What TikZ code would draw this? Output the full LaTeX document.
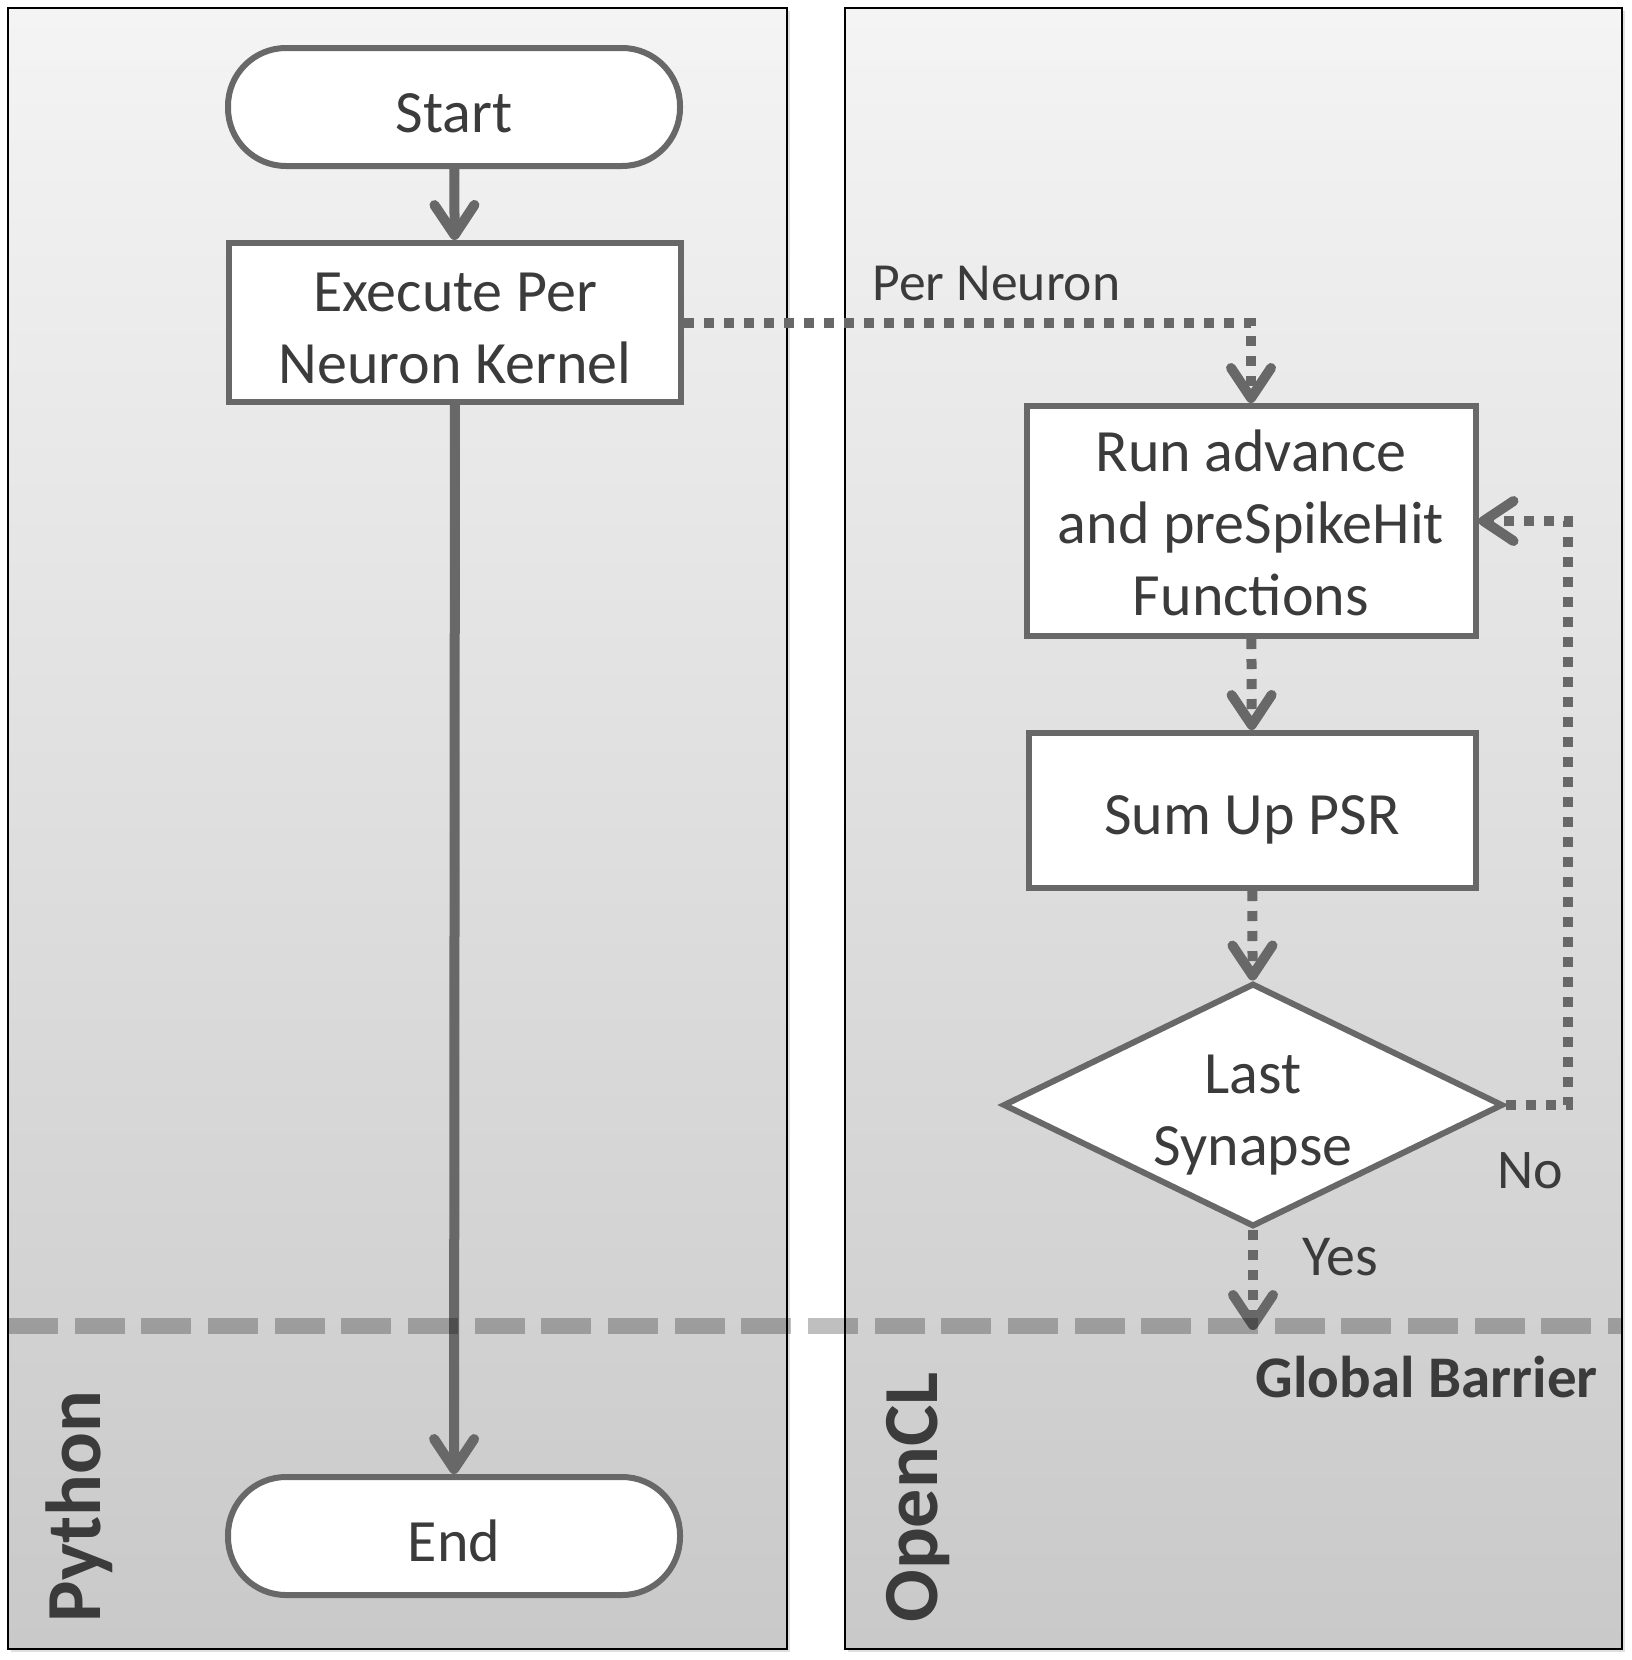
\documentclass[tikz,border=0pt]{standalone}
\usepackage{fontspec}
\setmainfont{Carlito}
\usetikzlibrary{arrows.meta,shapes.geometric}
\definecolor{ln}{HTML}{686868}
\definecolor{tx}{HTML}{3B3B3B}
\definecolor{bgtop}{HTML}{F4F4F4}
\definecolor{bgbot}{HTML}{C9C9C9}
\newcommand\lnx[2]{\raisebox{-#1}[25.2pt][10.8pt]{#2}}
\begin{document}
\begin{tikzpicture}[x=0.5pt,y=-0.5pt,
  box/.style={draw=ln, line width=3pt, fill=white, text=tx,
    font=\fontsize{30}{36}\selectfont, align=center, inner sep=0pt},
  term/.style={box, rounded corners=29pt},
  flow/.style={draw=ln, line width=5pt, -{Straight Barb[length=15pt,width=20pt,round]}},
  dotflow/.style={flow, dash pattern=on 5pt off 5pt},
  lbl/.style={text=tx, inner sep=0pt},
  panel/.style={top color=bgtop, bottom color=bgbot},
  barrier/.style={black, opacity=0.25, line width=8pt, dash pattern=on 25pt off 8.33pt}]
\useasboundingbox[fill=white] (0,0) rectangle (1632,1660);
% panels
\fill[black, opacity=0.12] (11,11) rectangle (790,1652);
\fill[black, opacity=0.12] (848,11) rectangle (1625,1652);
\shade[panel] (8,8) rectangle (787,1649);
\shade[panel] (845,8) rectangle (1622,1649);
\draw[black, line width=1.3pt] (8,8) rectangle (787,1649);
\draw[black, line width=1.3pt] (845,8) rectangle (1622,1649);
% nodes
\node[term, minimum width=226pt, minimum height=59pt] (start) at (454,107) {\lnx{5.6pt}{Start}};
\node[box, minimum width=226pt, minimum height=79.5pt] (exec) at (455,322.5) {\lnx{5.5pt}{Execute Per}\\\lnx{5.5pt}{Neuron Kernel}};
\node[term, minimum width=226pt, minimum height=59pt] (end) at (454,1536) {\lnx{5.6pt}{End}};
\node[box, minimum width=224.5pt, minimum height=115pt] (run) at (1251,521) {\lnx{3.8pt}{Run advance}\\\lnx{3.8pt}{and preSpikeHit}\\\lnx{3.8pt}{Functions}};
\node[box, minimum width=223.5pt, minimum height=77.5pt] (sum) at (1252,810.5) {\lnx{5pt}{Sum Up PSR}};
\node[box, diamond, aspect=2, minimum width=250pt, minimum height=120pt] (dia) at (1253,1105) {\lnx{5pt}{Last}\\\lnx{5pt}{Synapse}};
\coordinate (bar) at (1253,1330);
% labels
\node[lbl, font=\fontsize{26.8}{32}\selectfont, anchor=base west] (perneuron) at (872,300) {Per Neuron};
\node[lbl, font=\fontsize{28}{33}\selectfont, anchor=base west] (no) at (1497,1188) {No};
\node[lbl, font=\fontsize{29}{34}\selectfont, anchor=base west] (yes) at (1302,1275) {Yes};
\node[lbl, font=\fontsize{29.5}{35}\selectfont\bfseries, anchor=base east] (gb) at (1598,1397) {Global Barrier};
\node[lbl, font=\fontsize{39}{46}\selectfont\bfseries, rotate=90, anchor=base west] (py) at (100,1623) {Python};
\node[lbl, font=\fontsize{39}{46}\selectfont\bfseries, rotate=90, anchor=base west] (ocl) at (937,1623) {OpenCL};
% connectors
\draw[flow] (start) -- (exec);
\draw[flow] (exec) -- (end);
\draw[dotflow] (exec.east) -| (run.north);
\draw[dotflow] (run) -- (sum);
\draw[dotflow] (sum) -- (dia);
\draw[dotflow] (dia.east) -- ++(62,0) |- (run.east);
\draw[dotflow] (dia.south) -- (bar);
% barrier
\draw[barrier] (8,1326) -- (1622,1326);
\end{tikzpicture}
\end{document}
